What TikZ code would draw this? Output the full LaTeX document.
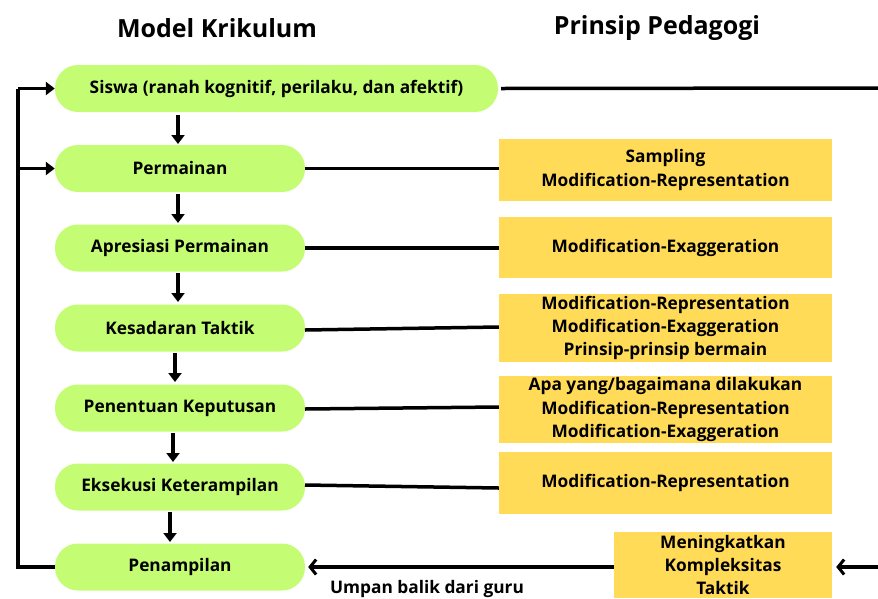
\documentclass[tikz,border=0pt]{standalone}
\usepackage{fontspec}
\setmainfont{Open Sans}
\usetikzlibrary{arrows.meta}
\definecolor{lime}{RGB}{196,253,116}
\definecolor{gold}{RGB}{255,219,88}
\tikzset{
  pill/.style={fill=lime, rounded corners=23pt, minimum height=47pt, inner sep=0pt, font={\fontsize{17.3}{23.3}\selectfont\bfseries}},
  pbox/.style={fill=gold, inner sep=0pt, align=center, font={\fontsize{17.3}{23.3}\selectfont\bfseries}},
  head/.style={font={\fontsize{25}{28}\selectfont\bfseries}},
  conn/.style={line width=3.5pt},
  farrow/.style={line width=3.5pt, -{Triangle[length=9pt,width=13pt]}},
  oarrow/.style={line width=3.5pt, -{Straight Barb[length=6pt,width=15pt,line width=3pt]}},
}
\begin{document}
\begin{tikzpicture}[x=1pt,y=-1pt]
\useasboundingbox (0,0) rectangle (878,598);
\node[head] (h1) at (217,28) {Model Krikulum};
\node[head] (h2) at (657,28) {Prinsip Pedagogi};

\node[pill, minimum width=443pt] (n0) at (276.5,88.5) {Siswa (ranah kognitif, perilaku, dan afektif)};
\node[pill, minimum width=250pt] (n1) at (180,168.5) {Permainan};
\node[pill, minimum width=250pt] (n2) at (180,248) {Apresiasi Permainan};
\node[pill, minimum width=250pt] (n3) at (180,328) {Kesadaran Taktik};
\node[pill, minimum width=250pt] (n4) at (180,408) {Penentuan Keputusan};
\node[pill, minimum width=250pt] (n5) at (180,487) {Eksekusi Keterampilan};
\node[pill, minimum width=250pt] (n6) at (180,567) {Penampilan};

\node[pbox, minimum width=333pt, minimum height=62pt] (b1) at (665.5,170) {Sampling\\Modification-Representation};
\node[pbox, minimum width=333pt, minimum height=61pt] (b2) at (665.5,247.5) {Modification-Exaggeration};
\node[pbox, minimum width=333pt, minimum height=68pt] (b3) at (665.5,328) {Modification-Representation\\Modification-Exaggeration\\Prinsip-prinsip bermain};
\node[pbox, minimum width=333pt, minimum height=67pt] (b4) at (665.5,409.5) {Apa yang/bagaimana dilakukan\\Modification-Representation\\Modification-Exaggeration};
\node[pbox, minimum width=333pt, minimum height=62pt] (b5) at (665.5,483) {\raisebox{-4pt}{Modification-Representation}};
\node[pbox, minimum width=218pt, minimum height=66pt] (b6) at (723,565) {Meningkatkan\\Kompleksitas\\Taktik};

\node[font={\fontsize{17.3}{20}\selectfont\bfseries}] (fb) at (427,589) {Umpan balik dari guru};

% vertical arrows
\draw[farrow] (178,115) -- (178,144);
\draw[farrow] (178,194) -- (178,223);
\draw[farrow] (178,273) -- (178,302);
\draw[farrow] (175,353) -- (175,382);
\draw[farrow] (173,433) -- (173,462);
\draw[farrow] (170,512) -- (170,542);

% horizontal connectors
\coordinate (r0) at (878,88);
\draw[conn] (n0.east) ++(3,0) -- (r0);
\draw[conn] (n1.east) -- (b1.west |- n1.east);
\draw[conn] (n2.east) -- (b2.west |- n2.east);
\draw[conn] (305,330) -- (b3.west |- 0,327);
\draw[conn] (305,409) -- (b4.west |- 0,407);
\draw[conn] (305,485) -- (b5.west |- 0,488);

% feedback loop
\coordinate (lb) at (18,567);
\coordinate (lt) at (18,88.5);
\draw[line width=3.5pt, line join=miter] (n6.west) -- (lb) -- (lt);
\draw[farrow] (lt) -- (n0.west);
\draw[farrow] (18,168.5) -- (n1.west);

% bottom arrows
\coordinate (r6) at (878,567);
\draw[oarrow] (b6.west |- n6.east) -- ([xshift=3pt]n6.east);
\draw[oarrow] (r6) -- ([xshift=4pt]b6.east |- r6);
\end{tikzpicture}
\end{document}
